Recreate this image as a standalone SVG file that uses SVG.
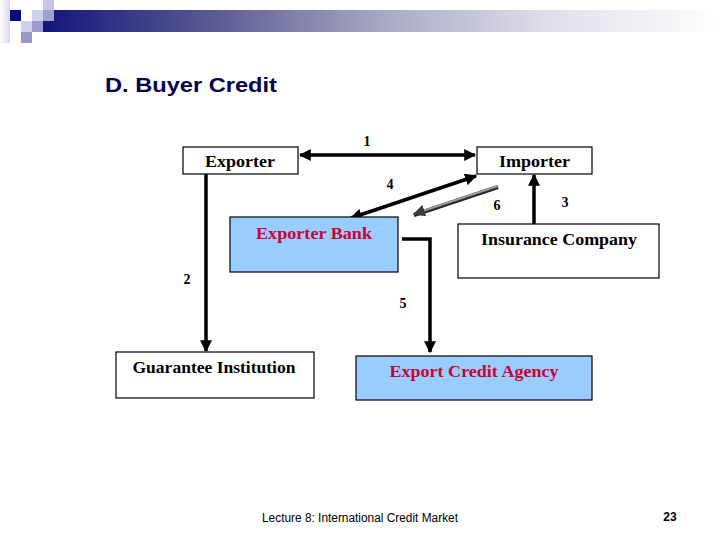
<svg xmlns="http://www.w3.org/2000/svg" width="720" height="540" viewBox="0 0 720 540">
  <style>
    .box { stroke: #000; stroke-width: 1.2; }
    .white { fill: #fff; }
    .blue { fill: #99ccff; }
    .node { font-family: "Liberation Serif", "Times New Roman", serif; font-weight: bold; font-size: 17px; text-anchor: middle; fill: #000; }
    .red { fill: #cc0033; }
    .num { font-family: "Liberation Serif", "Times New Roman", serif; font-weight: bold; font-size: 14px; text-anchor: middle; fill: #000; }
    .conn { stroke: #000; stroke-width: 3.5; fill: none; }
  </style>
  <defs>
    <linearGradient id="bar" x1="0" y1="0" x2="1" y2="0">
      <stop offset="0" stop-color="#14147a"/>
      <stop offset="0.25" stop-color="#5a5a92"/>
      <stop offset="0.5" stop-color="#a8a8c4"/>
      <stop offset="0.75" stop-color="#e0e0ea"/>
      <stop offset="1" stop-color="#ffffff"/>
    </linearGradient>
    <linearGradient id="side" x1="0" y1="0" x2="1" y2="0">
      <stop offset="0" stop-color="#ffffff"/>
      <stop offset="1" stop-color="#d8d8ee"/>
    </linearGradient>
    <marker id="ah" viewBox="0 0 10 10" refX="9" refY="5" markerWidth="12" markerHeight="12" markerUnits="userSpaceOnUse" orient="auto-start-reverse">
      <path d="M0,0 L10,5 L0,10 Z" fill="#000"/>
    </marker>
    <marker id="ahg" viewBox="0 0 10 10" refX="9" refY="5" markerWidth="12" markerHeight="12" markerUnits="userSpaceOnUse" orient="auto">
      <path d="M0,0 L10,5 L0,10 Z" fill="#3a3a3a"/>
    </marker>
  </defs>

  <rect width="720" height="540" fill="#fff"/>

  <g id="header">
    <rect x="0" y="0" width="10" height="43" fill="url(#side)"/>
    <rect x="43" y="10" width="677" height="22" fill="url(#bar)"/>
    <rect x="10" y="10" width="11" height="11" fill="#0a0a80"/>
    <rect x="21" y="21" width="11" height="11" fill="#d0d0ee"/>
    <rect x="32" y="10" width="11" height="11" fill="#d0d0ee"/>
    <rect x="43" y="0" width="11" height="10" fill="#c8c8e6"/>
    <rect x="32" y="21" width="11" height="11" fill="#9c9cd0"/>
    <rect x="21" y="32" width="11" height="11" fill="#9898c8"/>
    <rect x="43" y="10" width="11" height="11" fill="#a0a0cc"/>
  </g>

  <text x="105" y="92" font-family="Liberation Sans, Arial, sans-serif" font-weight="bold" font-size="21" fill="#000050" textLength="172" lengthAdjust="spacingAndGlyphs">D. Buyer Credit</text>

  <g id="connectors">
    <line class="conn" x1="300" y1="155" x2="475" y2="155" marker-start="url(#ah)" marker-end="url(#ah)"/>
    <line class="conn" x1="206" y1="174" x2="206" y2="351" marker-end="url(#ah)"/>
    <line class="conn" x1="534" y1="224" x2="534" y2="175" marker-end="url(#ah)"/>
    <line class="conn" x1="476" y1="176" x2="351" y2="218" marker-start="url(#ah)" marker-end="url(#ah)"/>
    <line x1="498" y1="187" x2="414" y2="215" stroke="#222" stroke-width="4"/>
    <line x1="498" y1="186" x2="414" y2="214" stroke="#9a9a9a" stroke-width="2" marker-end="url(#ahg)"/>
    <polyline class="conn" points="402,239 430,239 430,352" marker-end="url(#ah)"/>
    <text class="num" x="367" y="146">1</text>
    <text class="num" x="187" y="284">2</text>
    <text class="num" x="565" y="207">3</text>
    <text class="num" x="390" y="189">4</text>
    <text class="num" x="403" y="308">5</text>
    <text class="num" x="497" y="210">6</text>
  </g>

  <g id="exporter">
    <rect class="box white" x="183" y="147" width="115" height="27"/>
    <text class="node" x="240" y="167" textLength="70" lengthAdjust="spacingAndGlyphs">Exporter</text>
  </g>
  <g id="importer">
    <rect class="box white" x="477" y="147" width="115" height="27"/>
    <text class="node" x="534.5" y="167" textLength="71" lengthAdjust="spacingAndGlyphs">Importer</text>
  </g>
  <g id="exporter-bank">
    <rect class="box blue" x="230" y="217" width="168" height="55"/>
    <text class="node red" x="314" y="239" textLength="116" lengthAdjust="spacingAndGlyphs">Exporter Bank</text>
  </g>
  <g id="insurance-company">
    <rect class="box white" x="458" y="224" width="201" height="54"/>
    <text class="node" x="559" y="245" textLength="156" lengthAdjust="spacingAndGlyphs">Insurance Company</text>
  </g>
  <g id="guarantee-institution">
    <rect class="box white" x="116" y="352" width="198" height="46"/>
    <text class="node" x="214" y="373" textLength="163" lengthAdjust="spacingAndGlyphs">Guarantee Institution</text>
  </g>
  <g id="export-credit-agency">
    <rect class="box blue" x="356" y="356" width="236" height="44"/>
    <text class="node red" x="474" y="377" textLength="169" lengthAdjust="spacingAndGlyphs">Export Credit Agency</text>
  </g>

  <g id="footer">
    <text x="262" y="522" font-family="Liberation Sans, Arial, sans-serif" font-size="12" fill="#000" textLength="196" lengthAdjust="spacingAndGlyphs">Lecture 8: International Credit Market</text>
    <text x="670" y="521" font-family="Liberation Sans, Arial, sans-serif" font-weight="bold" font-size="12" fill="#000" text-anchor="middle">23</text>
  </g>
</svg>
